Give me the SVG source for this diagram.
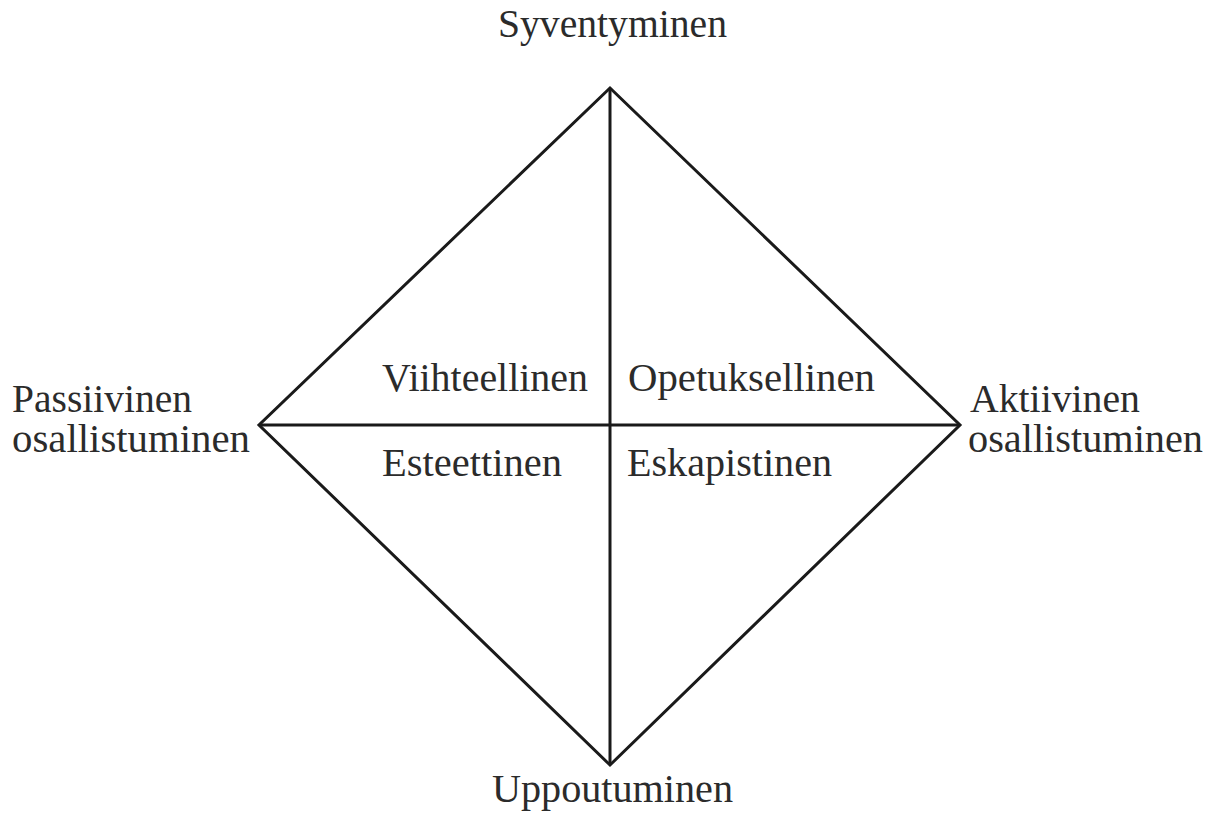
<svg xmlns="http://www.w3.org/2000/svg" width="1209" height="823" viewBox="0 0 1209 823">
<style>
text { font-family: "Liberation Serif", "DejaVu Serif", serif; font-size: 39px; fill: #2b2b2b; }
.ln { stroke: #1a1a1a; stroke-width: 3; fill: none; stroke-linejoin: miter; }
</style>
<rect width="1209" height="823" fill="#ffffff"/>
<g id="connectors">
<polygon class="ln" points="610,88 960,425 610,765 259,425"/>
<line class="ln" x1="610" y1="88" x2="610" y2="765"/>
<line class="ln" x1="259" y1="425" x2="960" y2="425"/>
</g>
<g id="syventyminen"><text x="498" y="37" textLength="229" lengthAdjust="spacingAndGlyphs">Syventyminen</text></g>
<g id="uppoutuminen"><text x="492" y="802" textLength="241" lengthAdjust="spacingAndGlyphs">Uppoutuminen</text></g>
<g id="passiivinen"><text x="12" y="412" textLength="180" lengthAdjust="spacingAndGlyphs">Passiivinen</text><text x="12" y="452" textLength="238" lengthAdjust="spacingAndGlyphs">osallistuminen</text></g>
<g id="aktiivinen"><text x="970" y="412" textLength="170" lengthAdjust="spacingAndGlyphs">Aktiivinen</text><text x="968" y="452" textLength="235" lengthAdjust="spacingAndGlyphs">osallistuminen</text></g>
<g id="viihteellinen"><text x="382" y="391" textLength="206" lengthAdjust="spacingAndGlyphs">Viihteellinen</text></g>
<g id="opetuksellinen"><text x="628" y="391" textLength="247" lengthAdjust="spacingAndGlyphs">Opetuksellinen</text></g>
<g id="esteettinen"><text x="382" y="476" textLength="180" lengthAdjust="spacingAndGlyphs">Esteettinen</text></g>
<g id="eskapistinen"><text x="627" y="476" textLength="205" lengthAdjust="spacingAndGlyphs">Eskapistinen</text></g>
</svg>
